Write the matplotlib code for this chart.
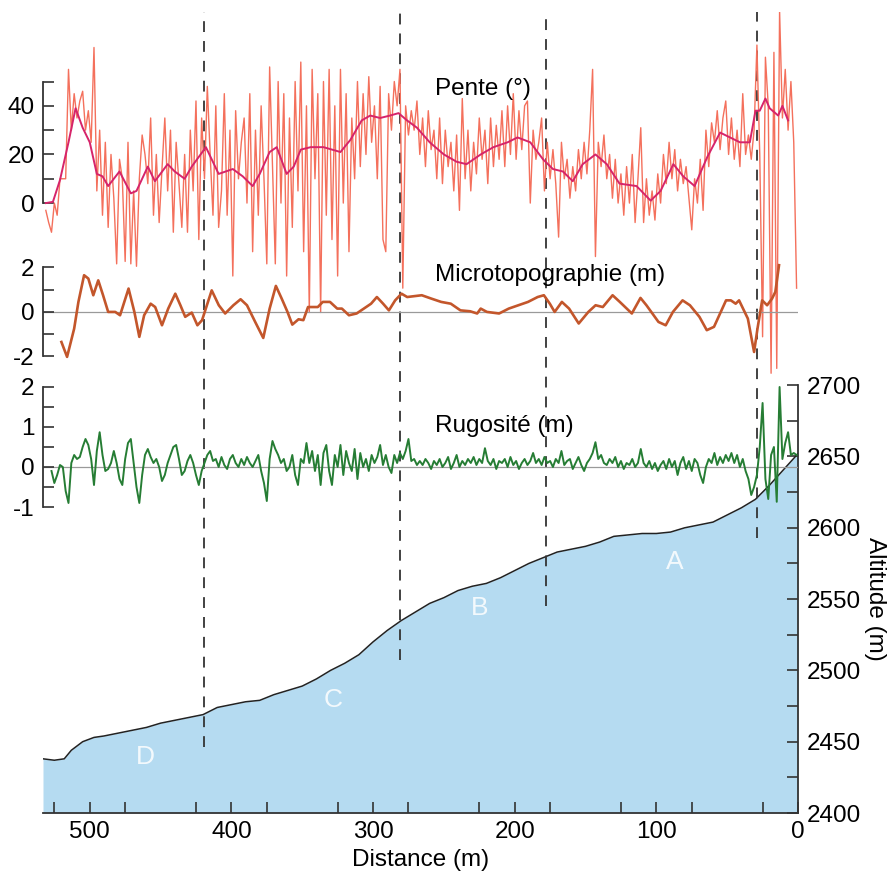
import numpy as np
import matplotlib.pyplot as plt
from matplotlib.ticker import FixedLocator, MultipleLocator

plt.rcParams['font.family'] = ['Liberation Sans', 'DejaVu Sans']
plt.rcParams['axes.unicode_minus'] = False

# altitude profile (distance m, altitude m)
profil_dist = [533, 525, 518, 513, 505, 497, 490, 480, 470, 460, 450, 440, 430, 420,
               410, 400, 390, 380, 370, 360, 350, 340, 330, 320, 310, 300, 290, 280,
               270, 260, 250, 240, 230, 220, 210, 200, 190, 180, 170, 160, 150, 140,
               130, 120, 110, 100, 90, 80, 70, 60, 50, 40, 30, 20, 10, 0]
profil_alt = [2438, 2437, 2438, 2444, 2450, 2453, 2454, 2456, 2458, 2460, 2463, 2465, 2467, 2469,
              2474, 2476, 2478, 2479, 2483, 2486, 2489, 2494, 2500, 2505, 2511, 2520, 2528, 2535,
              2541, 2547, 2551, 2556, 2559, 2561, 2565, 2570, 2575, 2579, 2583, 2585, 2587, 2590,
              2594, 2595, 2596, 2596, 2597, 2600, 2602, 2604, 2609, 2614, 2620, 2630, 2641, 2652]

# slope, raw values every 2 m from 531 m to 1 m
pente_dist = np.arange(531, 0, -2)
pente_brute = [
    -3, -8, -12, 0, -5, 10, 10, 10, 55, 30,
    45, 35, 42, 46, 30, 38, 25, 64, 5, 30,
    -5, 25, -10, 20, 2, -25, 18, 10, -24, 25,
    -25, 5, -26, 10, 28, 20, 8, 35, -5, 20,
    -8, 14, 35, 5, 30, -12, 25, 8, -10, 20,
    -12, 30, 5, 42, -15, 35, 10, 48, 20, -5,
    40, -10, 5, 45, -5, 30, -30, 38, 10, 25,
    35, 0, 45, -20, 30, -5, 40, 10, -25, 56,
    15, -25, 50, 0, 45, -30, 35, -10, 50, 5,
    58, -20, 40, -45, 55, 10, 45, -45, 50, -5,
    55, -15, 40, -30, 55, 0, 45, -20, 35, 10,
    50, 15, 45, 20, 52, 25, 40, 10, 48, -15,
    -20, 45, 30, 50, 40, 55, -35, 40, 28, 38,
    30, 42, 20, 35, 15, 38, 22, 30, 10, 35,
    8, 30, 15, 25, 5, 28, -3, 43, 10, 30,
    5, 25, 12, 35, 18, 30, 8, 35, 15, 32,
    18, 38, 15, 40, 20, 45, 18, 38, 22, 40,
    42, 0, 30, 18, 25, 35, 5, 25, 10, 22,
    8, -14, 25, 10, 18, 2, 15, 5, 22, 10,
    25, 12, 30, 55, -22, 25, 15, 28, 10, 20,
    2, 18, 0, 12, -5, 15, 0, 20, -8, 10,
    31, -8, 10, -5, 5, -7, 12, 0, 20, 8,
    25, 10, 22, 5, 18, 8, 15, 2, -11, 10,
    0, 18, -3, 30, 15, 33, 25, 38, 22, 35,
    42, 20, 35, 18, 30, 15, 45, 20, 28, 18,
    30, 65, 20, -55, 60, 40, -70, 62, -68, 79,
    35, 55, 30, 50, 25, -35]

# slope, smoothed
pente_lisse_dist = [531, 526, 521, 515, 510, 505, 500, 495, 491, 487, 479, 471, 467, 459,
                    454, 445, 440, 433, 428, 418, 409, 399, 392, 385, 380, 373, 368, 361,
                    356, 351, 344, 335, 323, 316, 308, 302, 295, 288, 282, 276, 269, 260,
                    250, 241, 234, 224, 215, 205, 198, 189, 180, 173, 166, 159, 152, 143,
                    135, 126, 114, 104, 97, 88, 81, 73, 64, 55, 48, 41, 34, 30, 27, 23,
                    20, 14, 11, 7]
pente_lisse = [0, 0.5, 9.5, 25, 39, 31, 25, 12, 11, 7, 13, 4, 5, 15,
               9, 16, 13, 10, 15, 23, 12, 14, 11, 7, 12, 21, 23, 12,
               15, 22, 23, 23, 21, 26, 34, 36, 35, 36, 37, 34, 31, 25,
               20, 17, 16, 20, 23, 25, 27, 25, 18, 14, 13, 9, 16, 20,
               16, 8, 7, 1, 5, 16, 11, 7, 19, 29, 27, 25, 25, 38, 38, 43,
               39, 36, 40, 34]

# microtopography
micro_dist = [520, 516, 511, 508, 504, 501, 497.5, 494, 490.6, 487, 482, 478.6, 472.6,
              468.5, 465, 461.6, 457, 453.8, 449, 444.6, 439.6, 436, 432.6, 428, 424,
              420.7, 413.9, 408.9, 404.4, 398.6, 393.5, 389, 383.2, 377.5, 373, 368.6,
              364.5, 360.4, 357, 352.6, 349.2, 345.9, 339, 335.5, 330.4, 325.3, 322, 317,
              311.6, 306.5, 301.4, 297.3, 292.9, 288.8, 284.4, 279.9, 275.9, 265.6, 258.9,
              251.9, 245.1, 238.3, 231.5, 226.5, 224, 219.6, 211, 204.2, 197.4, 190.6,
              183.8, 179.4, 175.2, 171.8, 166.7, 161.6, 154.8, 148, 142.9, 137.8, 130.9,
              125.8, 117.3, 111.2, 107, 98.5, 93.4, 88.3, 81.5, 76.3, 69.6, 64.4, 59.3,
              50.8, 47.4, 44, 41.6, 35.4, 31, 28.6, 25.3, 21.8, 18.3, 16, 13.4]
micro = [-1.35, -2.02, -0.75, 0.45, 1.65, 1.5, 0.75, 1.42, 0.75, 0.0, 0.0, -0.15, 1.05,
         0.0, -1.12, -0.15, 0.37, 0.22, -0.6, 0.15, 0.82, 0.3, -0.22, -0.03, -0.6,
         -0.37, 0.97, 0.3, -0.07, 0.3, 0.57, 0.3, -0.45, -1.17, 0.15, 1.17,
         0.6, 0.0, -0.57, -0.33, -0.37, 0.22, 0.22, 0.45, 0.45, 0.15, 0.15, -0.15,
         -0.07, 0.15, 0.37, 0.67, 0.37, 0.07, 0.52, 0.82, 0.67, 0.75, 0.6,
         0.45, 0.37, 0.07, 0.03, -0.07, 0.15, 0.0, -0.07, 0.15, 0.3, 0.45,
         0.67, 0.75, 0.37, 0.0, 0.45, 0.15, -0.52, 0.0, 0.3, 0.22, 0.75,
         0.45, -0.07, 0.63, 0.3, -0.45, -0.6, 0.0, 0.52, 0.3, -0.22, -0.82, -0.67,
         0.52, 0.52, 0.37, 0.52, -0.3, -1.8, -0.75, 0.52, 0.3, 0.6, 0.9, 2.1]

# roughness, every 2 m from 527 m to 1 m
rugo_dist = np.arange(527, 0, -2)
rugo = [
    -0.1, -0.4, -0.2, 0.05, 0.0, -0.6, -0.9, 0.1, 0.3, 0.2,
    0.25, 0.5, 0.7, 0.55, 0.2, -0.45, 0.4, 0.87, 0.3, -0.1,
    -0.05, 0.1, 0.4, 0.1, -0.3, -0.45, 0.2, 0.6, 0.7, 0.1,
    -0.5, -0.9, -0.2, 0.3, 0.45, 0.25, 0.1, 0.2, 0.0, -0.35,
    -0.2, 0.1, 0.3, 0.5, 0.55, 0.2, -0.2, -0.1, 0.15, 0.3,
    0.1, -0.2, -0.45, -0.1, 0.1, 0.3, 0.4, 0.15, 0.2, 0.0,
    0.25, 0.05, -0.05, 0.2, 0.3, 0.1, 0.0, 0.2, 0.05, 0.25,
    0.1, 0.0, 0.15, 0.3, -0.1, -0.4, -0.85, 0.2, 0.65, 0.45,
    0.3, 0.1, 0.2, -0.1, 0.0, 0.3, -0.2, -0.45, 0.2, 0.1,
    0.6, 0.1, 0.4, -0.1, 0.3, -0.45, 0.35, 0.55, -0.1, -0.45,
    0.3, 0.0, 0.55, -0.2, 0.4, 0.1, -0.1, 0.45, -0.3, 0.35,
    0.0, 0.2, -0.1, 0.3, 0.1, 0.25, 0.55, 0.05, 0.3, 0.0,
    -0.15, 0.3, 0.1, 0.35, 0.2, 0.4, 0.7, 0.15, 0.2, 0.05,
    0.15, 0.05, 0.2, 0.1, -0.05, 0.15, 0.05, 0.2, 0.0, 0.1,
    0.25, -0.05, 0.1, 0.3, 0.0, 0.15, 0.05, 0.2, 0.1, 0.25,
    0.05, 0.2, 0.1, 0.47, 0.15, 0.05, 0.2, -0.05, 0.15, 0.1,
    0.2, 0.0, 0.25, 0.05, 0.15, -0.05, 0.1, 0.2, 0.05, 0.15,
    0.35, 0.1, 0.2, 0.05, 0.25, 0.1, 0.15, 0.0, 0.2, 0.1,
    0.4, 0.05, 0.15, 0.2, -0.05, 0.1, 0.25, 0.05, -0.1, 0.1,
    0.2, 0.35, 0.62, 0.2, 0.3, 0.1, 0.05, 0.2, 0.1, 0.25,
    0.0, 0.15, -0.05, 0.1, 0.05, 0.2, 0.0, 0.1, 0.45, 0.1,
    0.0, 0.15, -0.05, 0.1, -0.1, 0.05, 0.15, -0.05, 0.2, 0.0,
    0.15, -0.2, 0.1, 0.25, -0.05, 0.15, -0.1, 0.2, 0.1, -0.2,
    -0.4, 0.0, 0.2, 0.1, 0.35, 0.05, 0.25, 0.1, 0.3, 0.15,
    0.35, 0.1, 0.3, 0.0, 0.2, -0.1, -0.3, -0.7, -0.5, -0.2,
    0.5, 1.6, -0.3, -0.8, 0.3, 0.5, -0.87, 2.0, 0.2, 0.6,
    0.87, 0.3, 0.35, 0.3]

# unit boundaries (dashed lines) and units
limites = [419, 281, 178, 29]
limites_bas = [2446, 2507, 2545, 2593]
unites = ['D', 'C', 'B', 'A']

axe_col = '#333333'
fs = 17.5

fig = plt.figure(figsize=(8.9, 8.74), dpi=100)
rect = [43 / 890, 61 / 874, 755 / 890, 801 / 874]

# main axis: altitude profile
ax = fig.add_axes(rect)
ax.fill_between(profil_dist, 2400, profil_alt, color='#b5dbf1', lw=0)
ax.plot(profil_dist, profil_alt, color='#222222', lw=1.1)
ax.set_xlim(533, 0)
ax.set_ylim(2400, 2961.7)
for d, y0 in zip(limites, limites_bas):
    ax.vlines(d, y0, 2961.7, colors='#333333', linestyles=(0, (6, 5)), lw=1.3)

for lab, (x, y) in zip(unites, [(461, 2439), (328, 2479), (225, 2544), (87, 2576)]):
    ax.text(x, y, lab, color='white', fontsize=19, alpha=0.85, ha='center', va='center')

for s in ['top', 'left']:
    ax.spines[s].set_visible(False)
ax.spines['right'].set_bounds(2400, 2700)
for s in ['right', 'bottom']:
    ax.spines[s].set_color(axe_col)
    ax.spines[s].set_linewidth(1.3)
ax.yaxis.tick_right()
ax.yaxis.set_label_position('right')
ax.yaxis.set_major_locator(FixedLocator(np.arange(2400, 2701, 50)))
ax.yaxis.set_minor_locator(FixedLocator(np.arange(2425, 2700, 50)))
ax.xaxis.set_major_locator(MultipleLocator(100))
ax.xaxis.set_minor_locator(FixedLocator(np.arange(25, 533, 50)))
ax.tick_params(which='both', direction='in', length=8, width=1.2, color=axe_col,
               labelsize=fs, pad=6)
ax.set_xlabel('Distance (m)', fontsize=fs, labelpad=4)
ax.set_ylabel('Altitude (m)', fontsize=fs, rotation=270, va='center')
ax.yaxis.set_label_coords(1.102, 0.267)


def panneau(ylim, bounds, majors, minors, zero=True):
    a = fig.add_axes(rect, sharex=ax)
    a.patch.set_visible(False)
    a.set_ylim(*ylim)
    for s in ['top', 'right', 'bottom']:
        a.spines[s].set_visible(False)
    a.spines['left'].set_bounds(*bounds)
    a.spines['left'].set_color(axe_col)
    a.spines['left'].set_linewidth(1.3)
    a.xaxis.set_visible(False)
    a.yaxis.set_major_locator(FixedLocator(majors))
    a.yaxis.set_minor_locator(FixedLocator(minors))
    a.tick_params(which='both', direction='in', length=8, width=1.2, color=axe_col,
                  labelsize=fs, pad=6)
    if zero:
        a.axhline(0, color='#9a9a9a', lw=0.9, zorder=1)
    return a


# slope
ap = panneau((-250.9, 78.6), (0, 50), [0, 20, 40], [10, 30, 50], zero=False)
ap.plot(pente_dist, pente_brute, color='#f4705c', lw=1.0)
ap.plot(pente_lisse_dist, pente_lisse, color='#d6246a', lw=1.4)
ap.text(256, 47, 'Pente (°)', fontsize=fs, ha='left', va='center')

# microtopography
am = panneau((-22.52, 13.48), (-2, 2), [-2, 0, 2], [-1, 1])
am.plot(micro_dist, micro, color='#c3562b', lw=1.9, solid_joinstyle='round')
am.text(256, 1.66, 'Microtopographie (m)', fontsize=fs, ha='left', va='center')

# roughness
ar = panneau((-8.65, 11.375), (-1, 2), [-1, 0, 1, 2], [-0.5, 0.5, 1.5])
ar.plot(rugo_dist, rugo, color='#267d34', lw=1.4)
ar.text(256, 1.03, 'Rugosité (m)', fontsize=fs, ha='left', va='center')

fig.savefig('out.png', dpi=100)
